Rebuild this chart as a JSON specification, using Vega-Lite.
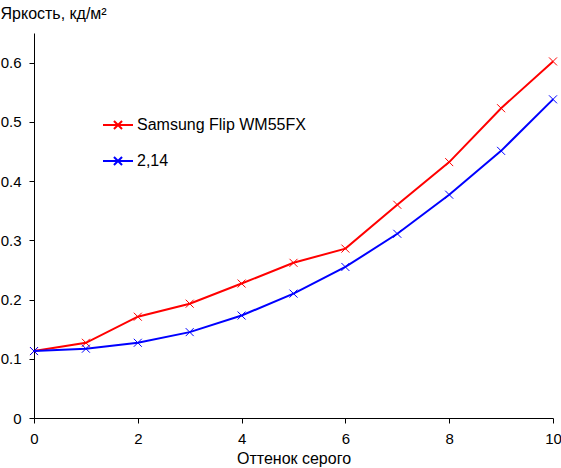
{
  "$schema": "https://vega.github.io/schema/vega-lite/v6.json",
  "width": 519,
  "height": 385,
  "autosize": {"type": "none"},
  "padding": {"left": 34, "top": 33, "right": 8, "bottom": 50},
  "background": "white",
  "config": {
    "font": "Liberation Sans",
    "view": {"stroke": null},
    "axis": {
      "domainColor": "black",
      "tickColor": "black",
      "labelColor": "black",
      "titleColor": "black",
      "labelFontSize": 15,
      "titleFontSize": 16,
      "titleFontWeight": "normal",
      "tickSize": 5,
      "grid": false
    }
  },
  "data": {
    "values": [
      {"gray": 0, "brightness": 0.113, "series": "Samsung Flip WM55FX"},
      {"gray": 1, "brightness": 0.127, "series": "Samsung Flip WM55FX"},
      {"gray": 2, "brightness": 0.171, "series": "Samsung Flip WM55FX"},
      {"gray": 3, "brightness": 0.193, "series": "Samsung Flip WM55FX"},
      {"gray": 4, "brightness": 0.227, "series": "Samsung Flip WM55FX"},
      {"gray": 5, "brightness": 0.262, "series": "Samsung Flip WM55FX"},
      {"gray": 6, "brightness": 0.286, "series": "Samsung Flip WM55FX"},
      {"gray": 7, "brightness": 0.360, "series": "Samsung Flip WM55FX"},
      {"gray": 8, "brightness": 0.432, "series": "Samsung Flip WM55FX"},
      {"gray": 9, "brightness": 0.523, "series": "Samsung Flip WM55FX"},
      {"gray": 10, "brightness": 0.602, "series": "Samsung Flip WM55FX"},
      {"gray": 0, "brightness": 0.113, "series": "2,14"},
      {"gray": 1, "brightness": 0.117, "series": "2,14"},
      {"gray": 2, "brightness": 0.127, "series": "2,14"},
      {"gray": 3, "brightness": 0.145, "series": "2,14"},
      {"gray": 4, "brightness": 0.173, "series": "2,14"},
      {"gray": 5, "brightness": 0.210, "series": "2,14"},
      {"gray": 6, "brightness": 0.255, "series": "2,14"},
      {"gray": 7, "brightness": 0.311, "series": "2,14"},
      {"gray": 8, "brightness": 0.377, "series": "2,14"},
      {"gray": 9, "brightness": 0.451, "series": "2,14"},
      {"gray": 10, "brightness": 0.538, "series": "2,14"}
    ]
  },
  "mark": {
    "type": "line",
    "strokeWidth": 2,
    "point": {
      "shape": "M-1,-1L1,1M-1,1L1,-1",
      "filled": false,
      "size": 64,
      "strokeWidth": 1
    }
  },
  "encoding": {
    "x": {
      "field": "gray",
      "type": "quantitative",
      "title": "Оттенок серого",
      "scale": {"domain": [0, 10], "nice": false},
      "axis": {
        "values": [0, 2, 4, 6, 8, 10],
        "format": "d",
        "labelPadding": 8,
        "titlePadding": 4,
        "labelFlush": false
      }
    },
    "y": {
      "field": "brightness",
      "type": "quantitative",
      "title": "Яркость, кд/м²",
      "scale": {"domain": [0, 0.65], "nice": false},
      "axis": {
        "values": [0, 0.1, 0.2, 0.3, 0.4, 0.5, 0.6],
        "format": "~g",
        "labelPadding": 8,
        "labelFlush": false,
        "titleAngle": 0,
        "titleAlign": "left",
        "titleBaseline": "alphabetic",
        "titleX": -34,
        "titleY": -15
      }
    },
    "color": {
      "field": "series",
      "type": "nominal",
      "scale": {
        "domain": ["Samsung Flip WM55FX", "2,14"],
        "range": ["#ff0000", "#0000ff"]
      },
      "legend": {
        "title": null,
        "orient": "none",
        "legendX": 68,
        "legendY": 76,
        "padding": 0,
        "labelFontSize": 16,
        "labelColor": "black",
        "labelLimit": 0,
        "symbolType": "M-1,0L1,0M-0.27,-0.27L0.27,0.27M-0.27,0.27L0.27,-0.27",
        "symbolSize": 900,
        "symbolStrokeWidth": 2,
        "symbolFillColor": "transparent",
        "rowPadding": 11,
        "labelOffset": 3
      }
    }
  }
}
